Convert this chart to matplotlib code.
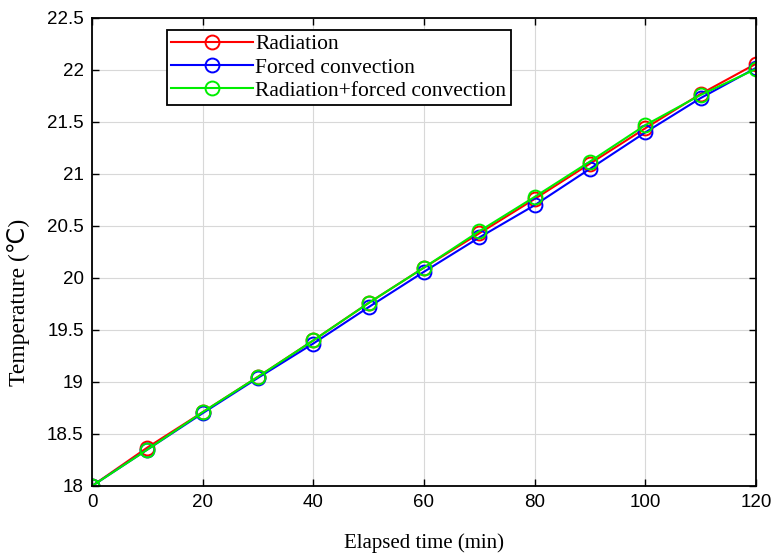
import matplotlib.pyplot as plt

time_min = [0, 10, 20, 30, 40, 50, 60, 70, 80, 90, 100, 110, 120]
radiation = [18.0, 18.37, 18.71, 19.05, 19.40, 19.76, 20.10, 20.43, 20.76, 21.10, 21.44, 21.77, 22.06]
forced = [18.0, 18.35, 18.70, 19.04, 19.37, 19.72, 20.06, 20.39, 20.70, 21.05, 21.40, 21.73, 22.02]
combined = [18.0, 18.35, 18.71, 19.05, 19.40, 19.76, 20.10, 20.45, 20.78, 21.12, 21.47, 21.76, 22.01]

xticks = [0, 20, 40, 60, 80, 100, 120]
yticks = [18, 18.5, 19, 19.5, 20, 20.5, 21, 21.5, 22, 22.5]
ytick_labels = ['18', '18.5', '19', '19.5', '20', '20.5', '21', '21.5', '22', '22.5']

fig = plt.figure(figsize=(7.71, 5.53), dpi=100)
ax = fig.add_axes([92/771, 1 - 486/553, 664/771, 468/553])

mk = dict(marker='o', markersize=10, markerfacecolor='none', markeredgewidth=1.4, linewidth=1.5)
ax.plot(time_min, radiation, color='#ff0000', label='Radiation', **mk)
ax.plot(time_min, forced, color='#0000ff', label='Forced convection', **mk)
ax.plot(time_min, combined, color='#00ee00', label='Radiation+forced convection', **mk)

ax.set_xlim(0, 120)
ax.set_ylim(18, 22.5)
ax.set_xticks(xticks)
ax.set_yticks(yticks)
ax.set_yticklabels(ytick_labels)
ax.grid(True, color='#d8d8d8', linewidth=0.8)
ax.tick_params(direction='in', length=5, width=1, labelsize=13.5, pad=6, top=True, right=True)
for lab in ax.get_xticklabels() + ax.get_yticklabels():
    lab.set_family('Liberation Sans')
for s in ax.spines.values():
    s.set_linewidth(1.3)

ax.set_xlabel('Elapsed time (min)', family='Liberation Serif', fontsize=15, labelpad=16)
ax.set_ylabel('Temperature (\u2103)', family=['Liberation Serif', 'DejaVu Sans'], fontsize=17)
ax.yaxis.set_label_coords(-0.094, 0.393)

leg = ax.legend(loc='upper left', bbox_to_anchor=(75/664, 1 - 12/468), fancybox=False,
                edgecolor='black', framealpha=1, prop={'family': 'Liberation Serif', 'size': 15.5},
                handlelength=3.8, handletextpad=0.1, borderpad=0.2, labelspacing=0.15,
                borderaxespad=0)
leg.get_frame().set_linewidth(1.3)

fig.savefig('out.png', dpi=100)
